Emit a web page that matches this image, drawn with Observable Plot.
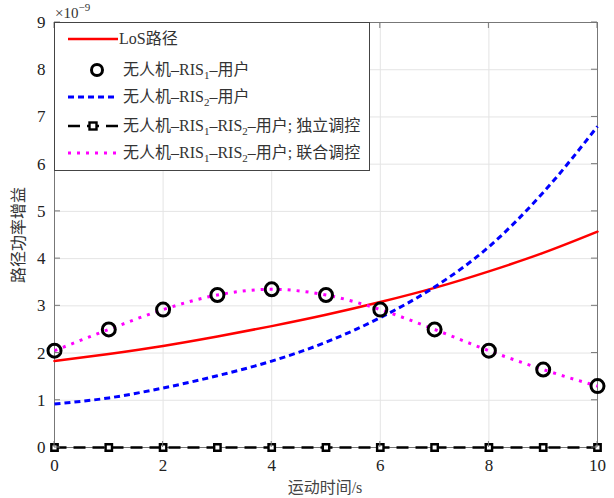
<!DOCTYPE html>
<html><head><meta charset="utf-8">
<script src="https://cdn.jsdelivr.net/npm/d3@7"></script>
<script src="https://cdn.jsdelivr.net/npm/@observablehq/plot@0.6"></script>
<style>
body{margin:0;background:#fff}
</style>
</head><body><div id="chart"></div>
<script>
const times = [0,1,2,3,4,5,6,7,8,9,10];
const losPath = [1.83,1.98,2.15,2.35,2.57,2.81,3.08,3.38,3.73,4.12,4.57];
const ris1User = [2.05,2.5,2.92,3.23,3.35,3.23,2.92,2.5,2.05,1.65,1.3];
const ris2User = [0.92,1.05,1.26,1.52,1.83,2.23,2.75,3.4,4.25,5.4,6.8];
const ris12Indep = [0,0,0,0,0,0,0,0,0,0,0];
const ris12Joint = [2.05,2.5,2.92,3.23,3.35,3.23,2.92,2.5,2.05,1.65,1.3];
const xTicks = [0,2,4,6,8,10];
const yTicks = [0,1,2,3,4,5,6,7,8,9];
const legendLabels = ["LoS路径","无人机–RIS₁–用户","无人机–RIS₂–用户","无人机–RIS₁–RIS₂–用户; 独立调控","无人机–RIS₁–RIS₂–用户; 联合调控"];
const xLabel = "运动时间/s";
const yLabel = "路径功率增益";

const rows = (ys) => times.map((t,i)=>({t, v: ys[i]}));
const FONT = "'Liberation Serif', 'Times New Roman', 'DejaVu Serif', 'Noto Sans CJK SC', serif";

const chart = Plot.plot({
  width: 614, height: 498,
  marginLeft: 54, marginRight: 17, marginTop: 22, marginBottom: 51,
  x: {domain: [0,10], axis: null},
  y: {domain: [0,9], axis: null},
  style: {color: "#222", background: "white", fontFamily: FONT, fontSize: "16px"},
  marks: [
    Plot.ruleX(xTicks, {x: d => d, stroke: "#e4e4e4", strokeOpacity: 1}),
    Plot.ruleY(yTicks, {y: d => d, stroke: "#e4e4e4", strokeOpacity: 1}),
    Plot.frame({stroke: "#777", strokeWidth: 1}),
    Plot.text(xTicks, {x: d => d, y: 0, text: d => String(d), dy: 18, fontSize: 17, fontFamily: FONT, fill: "#222", lineAnchor: "middle"}),
    Plot.text(yTicks, {x: 0, y: d => d, text: d => String(d), dx: -9, textAnchor: "end", fontSize: 17, fontFamily: FONT, fill: "#222"}),
    Plot.line(rows(losPath), {x: "t", y: "v", stroke: "#f00", strokeWidth: 2.5, curve: "monotone-x"}),
    Plot.line(rows(ris2User), {x: "t", y: "v", stroke: "#0000ff", strokeWidth: 3, strokeDasharray: "6,4", strokeLinecap: "butt", curve: "monotone-x"}),
    Plot.line(rows(ris12Joint), {x: "t", y: "v", stroke: "#ff00ff", strokeWidth: 3, strokeDasharray: "3,6", strokeLinecap: "butt", curve: "monotone-x"}),
    Plot.line(rows(ris12Indep), {x: "t", y: "v", stroke: "#000", strokeWidth: 2.5, strokeDasharray: "12,7", strokeLinecap: "butt"}),
    Plot.dot(rows(ris12Indep), {x: "t", y: "v", symbol: "square", r: 3.6, stroke: "#000", strokeWidth: 2.4, fill: "white"}),
    Plot.dot(rows(ris1User), {x: "t", y: "v", r: 6.5, stroke: "#000", strokeWidth: 3, fill: "none"})
  ]
});
document.getElementById("chart").appendChild(chart);

const svg = d3.select(chart);
const sx = chart.scale("x"), sy = chart.scale("y");
// inward ticks (MATLAB box style)
const tg = svg.append("g").attr("stroke", "#777").attr("stroke-width", 1);
xTicks.forEach(t => { const px = sx.apply(t);
  tg.append("line").attr("x1", px).attr("x2", px).attr("y1", 447).attr("y2", 441);
  tg.append("line").attr("x1", px).attr("x2", px).attr("y1", 22).attr("y2", 28); });
yTicks.forEach(t => { const py = sy.apply(t);
  tg.append("line").attr("x1", 54).attr("x2", 60).attr("y1", py).attr("y2", py);
  tg.append("line").attr("x1", 597).attr("x2", 591).attr("y1", py).attr("y2", py); });

// axis titles
svg.append("text").attr("x", 325).attr("y", 493).attr("text-anchor", "middle")
  .attr("font-size", 16).attr("fill", "#444").text(xLabel);
svg.append("text").attr("transform", "translate(24,235) rotate(-90)").attr("text-anchor", "middle")
  .attr("font-size", 16).attr("fill", "#333").text(yLabel);

// exponent
const ex = svg.append("text").attr("x", 55).attr("y", 18).attr("text-anchor", "start").attr("font-size", 15).attr("fill", "#333");
ex.append("tspan").text("×10");
ex.append("tspan").attr("dy", -7).attr("font-size", 11).text("−9");

// legend
const lg = svg.append("g").attr("font-size", 16).attr("fill", "#333").attr("text-anchor", "start");
lg.append("rect").attr("x", 54.5).attr("y", 22.5).attr("width", 315).attr("height", 148).attr("fill", "white").attr("stroke", "#444");
const rowY = [39, 70, 97, 126, 153];
function addText(i, x) {
  const t = lg.append("text").attr("x", x).attr("y", rowY[i] + 5);
  const parts = legendLabels[i].split(/([₁₂])/);
  let shifted = false;
  parts.forEach(p => {
    if (p === "₁" || p === "₂") { t.append("tspan").attr("font-size", 11).attr("dy", 4).text(p === "₁" ? "1" : "2"); shifted = true; }
    else if (p) { const s = t.append("tspan").text(p); if (shifted) { s.attr("dy", -4); shifted = false; } }
  });
}
lg.append("line").attr("x1", 68).attr("x2", 118).attr("y1", rowY[0]).attr("y2", rowY[0]).attr("stroke", "#f00").attr("stroke-width", 2.5);
addText(0, 119);
lg.append("circle").attr("cx", 97).attr("cy", rowY[1]).attr("r", 5.5).attr("fill", "none").attr("stroke", "#000").attr("stroke-width", 3);
addText(1, 123);
lg.append("line").attr("x1", 68).attr("x2", 118).attr("y1", rowY[2]).attr("y2", rowY[2]).attr("stroke", "#00f").attr("stroke-width", 3).attr("stroke-dasharray", "6,4");
addText(2, 123);
lg.append("line").attr("x1", 68).attr("x2", 118).attr("y1", rowY[3]).attr("y2", rowY[3]).attr("stroke", "#000").attr("stroke-width", 2.5).attr("stroke-dasharray", "12,7");
lg.append("rect").attr("x", 89.5).attr("y", rowY[3]-3.5).attr("width", 7).attr("height", 7).attr("fill", "white").attr("stroke", "#000").attr("stroke-width", 2.4);
addText(3, 123);
lg.append("line").attr("x1", 68).attr("x2", 118).attr("y1", rowY[4]).attr("y2", rowY[4]).attr("stroke", "#f0f").attr("stroke-width", 3).attr("stroke-dasharray", "3,6");
addText(4, 123);

svg.selectAll("text, tspan").attr("font-family", FONT);
</script></body></html>
